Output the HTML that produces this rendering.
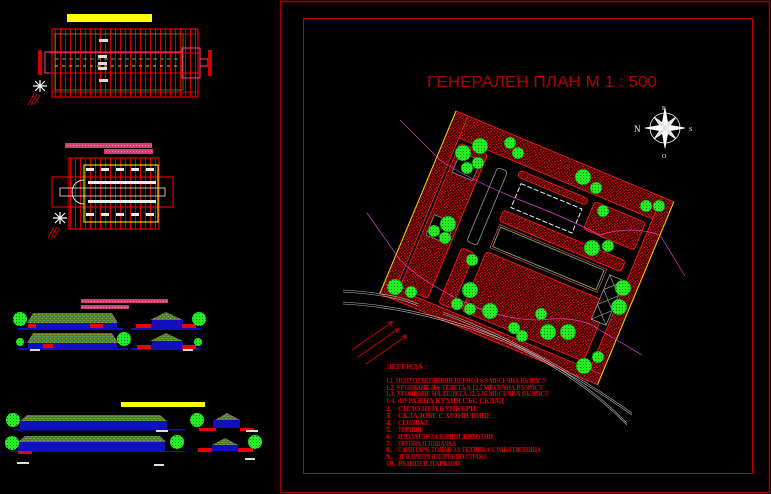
<!DOCTYPE html>
<html><head><meta charset="utf-8"><style>
html,body{margin:0;padding:0;background:#000;width:771px;height:494px;overflow:hidden}
svg{display:block}
text{font-family:"Liberation Serif",serif}
</style></head><body>
<svg width="771" height="494" viewBox="0 0 771 494" xmlns="http://www.w3.org/2000/svg">
<defs>
<pattern id="hatch" width="5" height="5" patternUnits="userSpaceOnUse">
<rect width="5" height="5" fill="#3a0000"/>
<rect x="0" y="0" width="1" height="1" fill="#ff1010"/>
<rect x="2" y="1" width="1" height="1" fill="#ff1010"/>
<rect x="4" y="2" width="1" height="1" fill="#ff0000"/>
<rect x="1" y="3" width="1" height="1" fill="#ff2020"/>
<rect x="3" y="4" width="1" height="1" fill="#ff0000"/>
<rect x="3" y="2" width="1" height="1" fill="#d00000"/>
<rect x="0" y="4" width="1" height="1" fill="#d00000"/>
</pattern>
<pattern id="roof" width="4" height="4" patternUnits="userSpaceOnUse">
<rect width="4" height="4" fill="#6b6b55"/>
<rect x="0" y="0" width="1" height="1" fill="#3fc03f"/>
<rect x="2" y="2" width="1" height="1" fill="#9acd32"/>
<rect x="3" y="0" width="1" height="1" fill="#888"/>
<rect x="1" y="3" width="1" height="1" fill="#2e8b2e"/>
</pattern>
<pattern id="pinkp" width="3" height="3" patternUnits="userSpaceOnUse">
<rect width="3" height="3" fill="#d04070"/>
<rect x="1" y="1" width="1" height="1" fill="#ff90b0"/>
</pattern>
<pattern id="vgrid" width="5" height="10" patternUnits="userSpaceOnUse">
<rect x="0" y="0" width="1" height="10" fill="#d00000"/>
</pattern>
<pattern id="tree" width="3" height="3" patternUnits="userSpaceOnUse">
<rect width="3" height="3" fill="#22ee22"/>
<rect x="1" y="1" width="1" height="1" fill="#0a7a0a"/>
</pattern>
<marker id="ah" markerWidth="6" markerHeight="6" refX="5" refY="3" orient="auto"><path d="M0,0 L6,3 L0,6" fill="none" stroke="#e00" stroke-width="1"/></marker>
</defs>

<rect x="280.5" y="1.5" width="489" height="491" fill="none" stroke="#a00000" stroke-width="1.5"/>
<rect x="303.5" y="18.5" width="449" height="455" fill="none" stroke="#c00000" stroke-width="1"/>

<text x="427" y="87" font-size="16" fill="#b00000" textLength="230" lengthAdjust="spacingAndGlyphs" style="font-family:'Liberation Sans',sans-serif">ГЕНЕРАЛЕН ПЛАН  М 1 : 500</text>

<g transform="translate(665,128)" stroke="#fff" fill="none" stroke-width="0.8">
<circle r="15"/>
<path d="M0,-20 L3,-3 L20,0 L3,3 L0,20 L-3,3 L-20,0 L-3,-3Z" fill="#fff"/>
<path d="M-11,-11 L2,-2 L11,11 L-2,2Z M11,-11 L2,2 L-11,11 L-2,-2Z" fill="#ddd"/>
</g>
<g font-size="9" fill="#fff" style="font-family:'Liberation Sans',sans-serif">
<text x="634" y="132">N</text><text x="662" y="110" font-size="6">E</text><text x="689" y="131" font-size="6">S</text><text x="662" y="158" font-size="6">O</text>
</g>

<g transform="translate(456,111) rotate(22.65)">
<rect x="0" y="0" width="236" height="198" fill="#000"/>
<g fill="url(#hatch)" stroke="#ff2020" stroke-width="0.8">
<rect x="0" y="0" width="236" height="24" rx="3"/>
<rect x="0" y="0" width="13" height="198"/>
<rect x="223" y="0" width="13" height="198"/>
<rect x="0" y="187" width="236" height="11"/>
<rect x="16" y="28" width="30" height="156" rx="3"/>
<rect x="58" y="124" width="14" height="60" rx="3"/>
<rect x="82" y="30" width="74" height="7" rx="3"/>
<rect x="163" y="30" width="55" height="30" rx="3"/>
<rect x="82" y="73" width="132" height="12" rx="3"/>
<rect x="82" y="118" width="132" height="64" rx="3"/>
</g>
<rect x="20" y="36" width="22" height="22" fill="#000" stroke="#888" stroke-width="0.8"/>
<rect x="20" y="104" width="22" height="22" fill="#000" stroke="#888" stroke-width="0.8"/>
<rect x="60" y="36" width="11" height="80" rx="3" fill="#000" stroke="#999" stroke-width="0.8"/>
<rect x="88" y="42" width="66" height="26" fill="#000" stroke="#eee" stroke-width="1" stroke-dasharray="5 2"/>
<rect x="86" y="90" width="112" height="21" fill="#000" stroke="#8fbc3f" stroke-width="0.8"/>
<rect x="84" y="88" width="116" height="25" fill="none" stroke="#ff5090" stroke-width="0.6"/>
<rect x="205" y="92" width="16" height="48" fill="#000" stroke="#999" stroke-width="0.8"/>
<path d="M205,92 L221,108 L205,124 L221,140 M221,92 L205,108 L221,124 L205,140" stroke="#999" stroke-width="0.7" fill="none"/>
<line x1="0" y1="198" x2="0" y2="0" stroke="#dddd00" stroke-width="1"/>
<line x1="236" y1="0" x2="236" y2="198" stroke="#dddd00" stroke-width="1"/>
</g>

<path d="M400,120 L440,160 Q470,180 520,200 Q560,215 600,235 Q630,225 660,235 L685,276" fill="none" stroke="#e040d0" stroke-width="0.7"/>
<path d="M367,213 L400,260 Q420,280 460,300 Q500,320 540,320 Q580,315 600,330 L642,355" fill="none" stroke="#e040d0" stroke-width="0.7"/>

<g fill="url(#tree)" stroke="#0a5a0a" stroke-width="0.5">
<circle cx="463" cy="153" r="8"/><circle cx="480" cy="146" r="8"/><circle cx="478" cy="163" r="6"/><circle cx="467" cy="168" r="6"/>
<circle cx="510" cy="143" r="6"/><circle cx="518" cy="153" r="6"/><circle cx="583" cy="177" r="8"/><circle cx="596" cy="188" r="6"/>
<circle cx="603" cy="211" r="6"/><circle cx="646" cy="206" r="6"/><circle cx="659" cy="206" r="6"/><circle cx="448" cy="224" r="8"/>
<circle cx="434" cy="231" r="6"/><circle cx="445" cy="238" r="6"/><circle cx="592" cy="248" r="8"/><circle cx="608" cy="246" r="6"/>
<circle cx="472" cy="260" r="6"/><circle cx="395" cy="287" r="8"/><circle cx="411" cy="292" r="6"/><circle cx="470" cy="290" r="8"/>
<circle cx="457" cy="304" r="6"/><circle cx="470" cy="309" r="6"/><circle cx="490" cy="311" r="8"/><circle cx="541" cy="314" r="6"/>
<circle cx="514" cy="328" r="6"/><circle cx="522" cy="336" r="6"/><circle cx="548" cy="332" r="8"/><circle cx="568" cy="332" r="8"/>
<circle cx="623" cy="288" r="8"/><circle cx="619" cy="307" r="8"/><circle cx="584" cy="366" r="8"/><circle cx="598" cy="357" r="6"/>
</g>

<g fill="none" stroke="#bbb" stroke-width="0.6">
<path d="M343,290 Q395,293 418,304"/><path d="M343,292 Q395,295 418,306"/>
<path d="M443,312 Q540,348 632,413"/><path d="M443,314 Q540,350 632,415"/>
<path d="M343,302 Q420,306 500,338 Q575,370 627,423"/><path d="M343,304 Q420,308 500,340 Q575,372 627,425"/>
</g>
<g stroke="#e00000" stroke-width="0.8" marker-end="url(#ah)">
<line x1="352" y1="350" x2="392" y2="322"/><line x1="358" y1="357" x2="398" y2="329"/><line x1="366" y1="364" x2="406" y2="336"/>
</g>

<g fill="#e00000" font-size="7.5" font-weight="bold">
<text x="386" y="369">ЛЕГЕНДА :</text>
<text x="386" y="383" textLength="160" lengthAdjust="spacingAndGlyphs">1.1. ПОЛУОТВЕГЛИВНИ ПЕРИОД 6-9 МЕСЕЧНА ВЪЗРАСТ</text>
<text x="386" y="390" textLength="157" lengthAdjust="spacingAndGlyphs">1.2. УГОЯВАНЕ НА ТЕЛЕТА 9-12.5 МЕСЕЧНА ВЪЗРАСТ</text>
<text x="386" y="396" textLength="163" lengthAdjust="spacingAndGlyphs">1.3. УГОЯВАНЕ НА ТЕЛЕТА 12.5-16 МЕСЕЧНА ВЪЗРАСТ</text>
<text x="386" y="403" textLength="118" lengthAdjust="spacingAndGlyphs">1.4. ФУРАЖНА КУХНЯ СЪС СКЛАД</text>
<text x="386" y="411">2.</text><text x="398" y="411" textLength="78" lengthAdjust="spacingAndGlyphs">СИЛОЗИ И БУНКЕРИ</text>
<text x="386" y="418">3.</text><text x="398" y="418" textLength="93" lengthAdjust="spacingAndGlyphs">СКЛАДОВЕ С ХРАНИЛИЩЕ</text>
<text x="386" y="425">4.</text><text x="398" y="425" textLength="30" lengthAdjust="spacingAndGlyphs">СЕНОВАЛ</text>
<text x="386" y="432">5.</text><text x="398" y="432" textLength="25" lengthAdjust="spacingAndGlyphs">ТОРИЩЕ</text>
<text x="386" y="439">6.</text><text x="398" y="439" textLength="95" lengthAdjust="spacingAndGlyphs">ИЗОЛАТОР ЗА БОЛНИ ЖИВОТНИ</text>
<text x="386" y="446">7.</text><text x="398" y="446" textLength="58" lengthAdjust="spacingAndGlyphs">ТРУПНА ПЛОЩАДКА</text>
<text x="386" y="452">8.</text><text x="398" y="452" textLength="143" lengthAdjust="spacingAndGlyphs">САНИТАРО ТОПАН ЗА ТЕХНИКА С РАБОТИЛНИЦА</text>
<text x="386" y="459">9.</text><text x="398" y="459" textLength="89" lengthAdjust="spacingAndGlyphs">ДЕЗБАРИЕРА И ПОРТАЛНА СТРАЖА</text>
<text x="386" y="466">10.</text><text x="398" y="466" textLength="64" lengthAdjust="spacingAndGlyphs">ВЪНШЕН ПАРКИНГ</text>
</g>

<rect x="67" y="14" width="85" height="8" fill="#ffff00"/>
<rect x="52" y="29" width="146" height="68" fill="url(#vgrid)" stroke="#e00000" stroke-width="1.2"/>
<line x1="52" y1="34" x2="198" y2="34" stroke="#c00" /><line x1="52" y1="92" x2="198" y2="92" stroke="#c00"/>
<rect x="55" y="34" width="128" height="56" fill="none" stroke="#6a8a3a" stroke-width="0.8"/>
<rect x="45" y="52" width="137" height="21" fill="none" stroke="#ff4090" stroke-width="1"/>
<rect x="182" y="48" width="18" height="30" fill="none" stroke="#ff4090" stroke-width="1"/>
<rect x="200" y="59" width="8" height="7" fill="none" stroke="#ff4090" stroke-width="1"/>
<rect x="208" y="50" width="4" height="26" fill="#d00000"/>
<rect x="38" y="50" width="4" height="25" fill="#d00000"/>
<line x1="55" y1="59" x2="180" y2="59" stroke="#33cc33" stroke-dasharray="4 3"/>
<line x1="55" y1="66" x2="180" y2="66" stroke="#dddd00" stroke-dasharray="3 4"/>
<line x1="50" y1="53" x2="200" y2="53" stroke="#e00"/><line x1="50" y1="73" x2="200" y2="73" stroke="#e00"/>
<g fill="#ddd"><rect x="99" y="39" width="9" height="3"/><rect x="98" y="55" width="9" height="3"/><rect x="98" y="62" width="9" height="3"/><rect x="98" y="67" width="9" height="3"/><rect x="99" y="79" width="9" height="3"/></g>
<g stroke="#fff" stroke-width="1.2"><path d="M33,86 L47,86 M40,80 L40,92 M35,81 L45,91 M45,81 L35,91"/></g>
<g stroke="#e00" stroke-width="0.8"><path d="M28,105 L34,94 M31,105 L37,94 M34,105 L40,95"/></g>

<rect x="65" y="143" width="87" height="5" fill="url(#pinkp)"/>
<rect x="104" y="149" width="49" height="5" fill="url(#pinkp)"/>
<rect x="69" y="158" width="90" height="71" fill="url(#vgrid)" stroke="#e00000" stroke-width="1.2"/>
<rect x="52" y="177" width="121" height="30" fill="none" stroke="#d00" stroke-width="1.2"/>
<rect x="84" y="165" width="74" height="57" fill="none" stroke="#ffff00" stroke-width="1"/>
<rect x="60" y="188" width="105" height="8" fill="none" stroke="#eee" stroke-width="0.8"/>
<g fill="#eee"><rect x="88" y="181" width="68" height="3"/><rect x="88" y="200" width="68" height="3"/>
<rect x="86" y="168" width="8" height="3"/><rect x="101" y="168" width="8" height="3"/><rect x="116" y="168" width="8" height="3"/><rect x="131" y="168" width="8" height="3"/><rect x="146" y="168" width="8" height="3"/>
<rect x="86" y="213" width="8" height="3"/><rect x="101" y="213" width="8" height="3"/><rect x="116" y="213" width="8" height="3"/><rect x="131" y="213" width="8" height="3"/><rect x="146" y="213" width="8" height="3"/></g>
<path d="M84,180 A12,12 0 0 0 84,204" fill="none" stroke="#ddd"/>
<g stroke="#fff" stroke-width="1.2"><path d="M53,218 L67,218 M60,212 L60,224 M55,213 L65,223 M65,213 L55,223"/></g>
<g stroke="#e00" stroke-width="0.8"><path d="M48,238 L54,227 M51,238 L57,227 M54,238 L60,228"/></g>

<rect x="81" y="299" width="87" height="4" fill="url(#pinkp)"/>
<rect x="81" y="305" width="48" height="4" fill="url(#pinkp)"/>
<g>
<path d="M27,323 L33,313 L112,313 L118,323Z" fill="url(#roof)"/>
<rect x="28" y="323" width="89" height="5" fill="#1010c0"/><rect x="18" y="328" width="105" height="2" fill="#1010c0"/>
<rect x="28" y="324" width="8" height="4" fill="#e00"/><rect x="90" y="324" width="13" height="4" fill="#e00"/>
<path d="M150,320 L166,312 L183,320Z" fill="url(#roof)"/>
<rect x="152" y="320" width="31" height="8" fill="#1010c0"/><rect x="131" y="328" width="70" height="2" fill="#1010c0"/>
<rect x="136" y="324" width="15" height="4" fill="#e00"/><rect x="182" y="324" width="14" height="4" fill="#e00"/>
<path d="M27,343 L33,333 L112,333 L118,343Z" fill="url(#roof)"/>
<rect x="28" y="343" width="89" height="5" fill="#1010c0"/><rect x="18" y="348" width="110" height="2" fill="#1010c0"/>
<rect x="43" y="344" width="10" height="4" fill="#e00"/>
<path d="M150,341 L166,333 L183,341Z" fill="url(#roof)"/>
<rect x="152" y="341" width="31" height="7" fill="#1010c0"/><rect x="131" y="348" width="70" height="2" fill="#1010c0"/>
<rect x="137" y="345" width="14" height="4" fill="#e00"/><rect x="182" y="345" width="14" height="4" fill="#e00"/>
</g>
<g fill="url(#tree)"><circle cx="20" cy="319" r="7"/><circle cx="199" cy="319" r="7"/><circle cx="124" cy="339" r="7"/><circle cx="20" cy="342" r="4"/><circle cx="198" cy="342" r="4"/></g>

<rect x="121" y="402" width="84" height="5" fill="#ffff00"/>
<path d="M20,421 L27,415 L160,415 L167,421Z" fill="url(#roof)"/>
<rect x="20" y="421" width="147" height="8" fill="#1010c0"/><rect x="14" y="429" width="171" height="1.5" fill="#1010c0"/>
<path d="M215,420 L227,413 L240,420Z" fill="url(#roof)"/>
<rect x="213" y="420" width="27" height="8" fill="#1010c0"/>
<rect x="199" y="428" width="17" height="3" fill="#e00"/><rect x="240" y="428" width="14" height="3" fill="#e00"/>
<path d="M18,442 L25,436 L160,436 L166,442Z" fill="url(#roof)"/>
<rect x="18" y="442" width="147" height="9" fill="#1010c0"/><rect x="10" y="451" width="175" height="1" fill="#1010c0"/>
<path d="M212,445 L225,438 L238,445Z" fill="url(#roof)"/>
<rect x="212" y="445" width="26" height="6" fill="#1010c0"/>
<rect x="198" y="448" width="14" height="4" fill="#e00"/><rect x="238" y="448" width="15" height="4" fill="#e00"/>
<rect x="18" y="451" width="14" height="3" fill="#e00"/>
<g fill="#ddd"><rect x="156" y="430" width="12" height="2"/><rect x="246" y="430" width="12" height="2"/><rect x="17" y="462" width="12" height="2"/><rect x="154" y="464" width="10" height="2"/><rect x="245" y="458" width="10" height="2"/><rect x="30" y="349" width="10" height="2"/><rect x="183" y="349" width="10" height="2"/></g>
<g fill="url(#tree)"><circle cx="13" cy="420" r="7"/><circle cx="12" cy="443" r="7"/><circle cx="197" cy="420" r="7"/><circle cx="177" cy="442" r="7"/><circle cx="255" cy="442" r="7"/></g>
</svg>
</body></html>
